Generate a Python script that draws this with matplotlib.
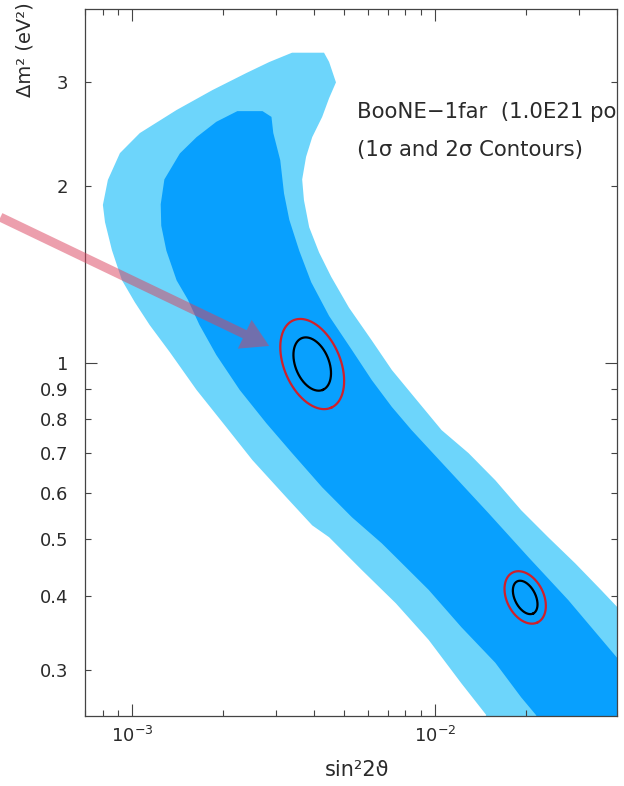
import numpy as np
import matplotlib
matplotlib.use("Agg")
import matplotlib.pyplot as plt
from matplotlib.patches import FancyArrowPatch

# Allowed regions (sin^2 2theta, dm^2 in eV^2)
# 2 sigma band (light blue)
sigma2_x = [3.38e-3, 4.31e-3, 4.48e-3, 4.72e-3, 4.48e-3, 4.25e-3, 3.94e-3, 3.76e-3,
            3.65e-3, 3.70e-3, 3.85e-3, 4.15e-3, 4.55e-3, 5.21e-3, 6.20e-3, 7.22e-3,
            8.72e-3, 1.054e-2, 1.293e-2, 1.586e-2, 1.932e-2, 2.37e-2, 2.91e-2, 3.54e-2,
            4.34e-2, 4.34e-2, 1.395e-2, 1.48e-2, 1.226e-2, 9.55e-3, 7.44e-3, 5.75e-3,
            4.48e-3, 3.94e-3, 3.23e-3, 2.50e-3, 2.05e-3, 1.635e-3, 1.333e-3, 1.145e-3,
            1.022e-3, 9.27e-4, 8.59e-4, 8.15e-4, 8.02e-4, 8.33e-4, 9.13e-4, 1.062e-3,
            1.405e-3, 1.846e-3, 2.388e-3, 2.842e-3]
sigma2_y = [3.37, 3.37, 3.25, 3.00, 2.82, 2.62, 2.42, 2.24,
            2.05, 1.89, 1.70, 1.54, 1.40, 1.24, 1.09, 0.971,
            0.863, 0.767, 0.701, 0.630, 0.560, 0.504, 0.455, 0.410,
            0.367, 0.236, 0.236, 0.251, 0.284, 0.337, 0.389, 0.443,
            0.504, 0.528, 0.590, 0.682, 0.776, 0.898, 1.042, 1.158,
            1.267, 1.381, 1.554, 1.734, 1.855, 2.046, 2.273, 2.459,
            2.692, 2.911, 3.112, 3.249]

# 1 sigma band (dark blue)
sigma1_x = [2.23e-3, 2.70e-3, 2.89e-3, 2.93e-3, 3.09e-3, 3.18e-3, 3.31e-3, 3.57e-3,
            3.91e-3, 4.48e-3, 5.33e-3, 6.20e-3, 7.22e-3, 8.39e-3, 1.111e-2, 1.505e-2,
            2.04e-2, 2.76e-2, 4.34e-2, 4.34e-2, 2.28e-2, 2.16e-2, 1.93e-2, 1.586e-2,
            1.226e-2, 9.55e-3, 7.44e-3, 6.69e-3, 5.33e-3, 4.25e-3, 3.38e-3, 2.78e-3,
            2.27e-3, 1.90e-3, 1.67e-3, 1.53e-3, 1.405e-3, 1.30e-3, 1.25e-3, 1.245e-3,
            1.28e-3, 1.44e-3, 1.635e-3, 1.90e-3]
sigma1_y = [2.68, 2.68, 2.62, 2.46, 2.21, 1.94, 1.75, 1.55,
            1.37, 1.20, 1.05, 0.933, 0.840, 0.767, 0.656, 0.554,
            0.466, 0.394, 0.299, 0.236, 0.236, 0.251, 0.269, 0.308,
            0.354, 0.410, 0.466, 0.492, 0.545, 0.613, 0.701, 0.788,
            0.898, 1.03, 1.16, 1.28, 1.38, 1.55, 1.71, 1.86,
            2.05, 2.27, 2.42, 2.57]

# Two test points with their small contours (half axes given in decades)
fit_x = [3.94e-3, 1.99e-2]
fit_y = [0.994, 0.398]
inner_major = [(0.0349, -0.0440), (0.0266, -0.0273)]
inner_minor = [(0.0513, 0.0111), (0.0308, 0.0080)]
outer_major = [(0.0625, -0.0744), (0.0414, -0.0424)]
outer_minor = [(0.0849, 0.0191), (0.0543, 0.0141)]

# Arrow pointing at the first point
arrow_from = (3.68e-4, 1.768)
arrow_to = (2.84e-3, 1.067)

xtick_vals = [1e-3, 1e-2]
xtick_labels = ["$10^{-3}$", "$10^{-2}$"]
ytick_major = [1]
ytick_minor = [0.3, 0.4, 0.5, 0.6, 0.7, 0.8, 0.9, 2, 3]
ytick_minor_labels = ["0.3", "0.4", "0.5", "0.6", "0.7", "0.8", "0.9", "2", "3"]

light = "#6DD5FB"
dark = "#08A0FE"
ink = "#2a2a2a"

plt.rcParams["font.family"] = ["DejaVu Sans"]

fig = plt.figure(figsize=(6.24, 7.86), dpi=100)
ax = fig.add_axes([85 / 624, 1 - 716 / 786, 532 / 624, 707 / 786])
ax.set_xscale("log")
ax.set_yscale("log")

ax.fill(sigma2_x, sigma2_y, color=light, lw=0, zorder=1)
ax.fill(sigma1_x, sigma1_y, color=dark, lw=0, zorder=2)

t = np.linspace(0, 2 * np.pi, 300)
for i in range(len(fit_x)):
    cx, cy = np.log10(fit_x[i]), np.log10(fit_y[i])
    for a, b, col in [(outer_major[i], outer_minor[i], "#D0202A"),
                      (inner_major[i], inner_minor[i], "black")]:
        lx = cx + a[0] * np.cos(t) + b[0] * np.sin(t)
        ly = cy + a[1] * np.cos(t) + b[1] * np.sin(t)
        ax.plot(10 ** lx, 10 ** ly, color=col, lw=1.6, zorder=4)

arr = FancyArrowPatch(arrow_from, arrow_to, transform=ax.transData,
                      arrowstyle="simple,head_length=1.95,head_width=2.3,tail_width=0.65",
                      mutation_scale=10, shrinkA=0, shrinkB=0,
                      facecolor=(0.86, 0.25, 0.36, 0.5), edgecolor="none",
                      clip_on=False, zorder=5)
fig.add_artist(arr)

ax.text(0.511, 0.854, "BooNE\u22121far  (1.0E21 pot)", transform=ax.transAxes,
        fontsize=15.3, color=ink, va="center", ha="left", clip_on=True)
ax.text(0.511, 0.801, "(1\u03c3 and 2\u03c3 Contours)", transform=ax.transAxes,
        fontsize=15.3, color=ink, va="center", ha="left")

ax.set_xlim(7e-4, 0.04)
ax.set_ylim(0.25, 4.0)

ax.set_xticks(xtick_vals, xtick_labels)
ax.set_yticks(ytick_major, ["1"])
ax.set_yticks(ytick_minor, ytick_minor_labels, minor=True)
ax.xaxis.set_minor_formatter(matplotlib.ticker.NullFormatter())

ax.tick_params(which="both", direction="in", top=True, right=True,
               colors="#444444", labelcolor=ink, labelsize=13, width=0.8)
ax.tick_params(which="major", length=8.6)
ax.tick_params(which="minor", length=4.3)
ax.tick_params(axis="y", which="both", pad=12)
ax.tick_params(axis="x", which="both", pad=7)
for s in ax.spines.values():
    s.set_color("#444444")
    s.set_linewidth(0.9)

fig.text(357 / 624, 1 - 770 / 786, "sin\u00b22\u03d1", fontsize=15, color=ink,
         ha="center", va="center")
fig.text(25 / 624, 1 - 50 / 786, "\u0394m\u00b2 (eV\u00b2)", fontsize=14, color=ink,
         ha="center", va="center", rotation=90)

fig.savefig("out.png", dpi=100)
